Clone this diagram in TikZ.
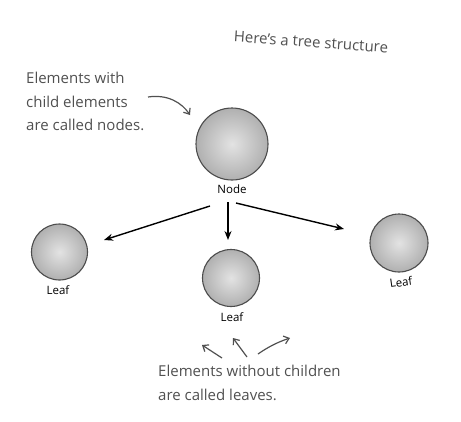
\documentclass[tikz,border=0pt]{standalone}
\usepackage{fontspec}
\setmainfont{Open Sans}
\usetikzlibrary{arrows.meta}
\definecolor{notegray}{HTML}{505050}
\tikzset{
  ball/.style={circle, minimum size=#1, inner sep=0pt, shading=radial,
    inner color=gray!22, outer color=gray!62, draw=black!70, line width=1.1pt},
  note/.style={text=notegray, font=\fontsize{15}{23.5}\selectfont, align=left, inner sep=0pt},
  lbl/.style={font=\fontsize{11.5}{12}\selectfont, inner sep=0pt},
  treearrow/.style={line width=1.4pt, -{Stealth[length=9pt,width=7pt]}},
  notearrow/.style={notegray, line width=1.2pt, -{Straight Barb[length=5pt,width=8pt]}}
}
\begin{document}
\begin{tikzpicture}[x=1pt,y=-1pt]
\useasboundingbox (0,0) rectangle (461,421);
% title
\node[note, rotate=-4] (title) at (311,42) {Here’s a tree structure};
% top-left note
\node[note, anchor=north west] (nodenote) at (26,72) {Elements with\\child elements\\are called nodes.};
% balls
\node[ball=72pt] (root) at (232,144) {};
\node[lbl] (rootlbl) at (232,189) {Node};
\node[ball=56pt] (leafL) at (59.5,252) {};
\node[lbl] (leafLlbl) at (58,290) {Leaf};
\node[ball=57pt] (leafM) at (231,278) {};
\node[lbl] (leafMlbl) at (232,317) {Leaf};
\node[ball=58pt] (leafR) at (399,243) {};
\node[lbl, rotate=8] (leafRlbl) at (401,282) {Leaf};
% tree arrows
\coordinate (sL) at (210,206); \coordinate (eL) at (104,240);
\coordinate (sM) at (228,202); \coordinate (eM) at (228,240);
\coordinate (sR) at (236,203); \coordinate (eR) at (344,229);
\draw[treearrow] (sL) -- (eL);
\draw[treearrow] (sM) -- (eM);
\draw[treearrow] (sR) -- (eR);
% note arrow to root
\coordinate (na) at (148,97); \coordinate (nb) at (190,115);
\draw[notearrow] (na) .. controls (168,94) and (182,103) .. (nb);
% bottom note
\node[note, anchor=north west] (leafnote) at (158,365) {Elements without children\\are called leaves.};
\coordinate (b1s) at (222,358); \coordinate (b1e) at (202,345);
\coordinate (b2s) at (247,357); \coordinate (b2e) at (233,338);
\coordinate (b3s) at (258,354); \coordinate (b3e) at (290,338);
\draw[notearrow] (b1s) -- (b1e);
\draw[notearrow] (b2s) -- (b2e);
\draw[notearrow] (b3s) .. controls (268,347) and (278,342) .. (b3e);
\end{tikzpicture}
\end{document}
